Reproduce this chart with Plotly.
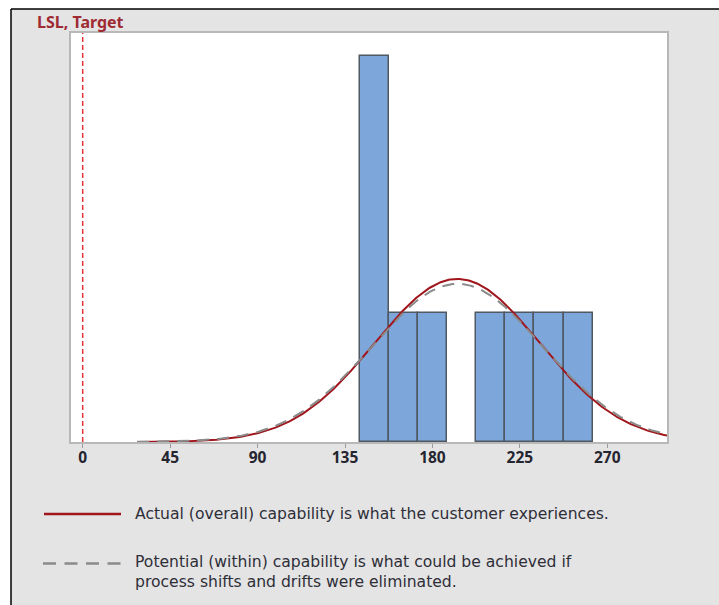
import numpy as np
import plotly.graph_objects as go

# ---------------- data ----------------
bin_centers = [150, 165, 180, 195, 210, 225, 240, 255]
bin_counts = [3, 1, 1, 0, 1, 1, 1, 1]
bin_width = 15
n_obs = 9

overall_mean = 192.8
overall_sd = 42.5
within_mean = 192.8
within_sd = 43.8
curve_start = 28
curve_end = 305

lsl_target = 0
tick_values = [0, 45, 90, 135, 180, 225, 270]

label_lsl = "LSL, Target"
legend_actual = "Actual (overall) capability is what the customer experiences."
legend_potential = ("Potential (within) capability is what could be achieved if<br>"
                    "process shifts and drifts were eliminated.")

# ---------------- layout geometry ----------------
W, H = 719, 605
ML, MR, MT, MB = 71, 52, 33, 163
PW = W - ML - MR
PH = H - MT - MB


def xp(px):
    return (px - ML) / PW


def yp(py):
    return (H - MB - py) / PH


def normal_counts(x, mu, sd):
    return n_obs * bin_width * np.exp(-0.5 * ((x - mu) / sd) ** 2) / (sd * np.sqrt(2 * np.pi))


xs = np.linspace(curve_start, curve_end, 400)
bar_outline = ["#4F5863" if c > 0 else "rgba(0,0,0,0)" for c in bin_counts]

fig = go.Figure()
fig.add_trace(go.Bar(
    x=bin_centers, y=bin_counts, width=bin_width,
    marker=dict(color="#7DA7DA", line=dict(color=bar_outline, width=1.5)),
    hoverinfo="skip", showlegend=False,
))
fig.add_trace(go.Scatter(
    x=xs, y=normal_counts(xs, overall_mean, overall_sd), mode="lines",
    line=dict(color="#A0161C", width=2), showlegend=False, hoverinfo="skip",
))
fig.add_trace(go.Scatter(
    x=xs, y=normal_counts(xs, within_mean, within_sd), mode="lines",
    line=dict(color="#8A8A8A", width=2, dash="12px,8px"), showlegend=False, hoverinfo="skip",
))

x0_px = 82.7
px_per_unit = (607.3 - 82.7) / 270
xmin = (ML - x0_px) / px_per_unit
xmax = (ML + PW - x0_px) / px_per_unit
ymax = PH / ((H - MB - 56) / 3)

shapes = [
    # LSL / Target line
    dict(type="line", xref="x", yref="paper", x0=lsl_target, x1=lsl_target, y0=0, y1=1,
         line=dict(color="#E2353B", width=1.5, dash="5px,3px"), layer="above"),
    # white strips outside frame
    dict(type="rect", xref="paper", yref="paper", x0=xp(-5), x1=xp(11), y0=yp(H + 5), y1=yp(-5),
         fillcolor="white", line=dict(width=0), layer="above"),
    dict(type="rect", xref="paper", yref="paper", x0=xp(-5), x1=xp(W + 5), y0=yp(9), y1=yp(-5),
         fillcolor="white", line=dict(width=0), layer="above"),
    # black frame lines
    dict(type="line", xref="paper", yref="paper", x0=xp(11), x1=xp(11), y0=yp(9), y1=yp(H + 5),
         line=dict(color="black", width=1.5), layer="above"),
    dict(type="line", xref="paper", yref="paper", x0=xp(11), x1=xp(W + 5), y0=yp(9), y1=yp(9),
         line=dict(color="black", width=1.5), layer="above"),
    # legend lines
    dict(type="line", xref="paper", yref="paper", x0=xp(44), x1=xp(121), y0=yp(514), y1=yp(514),
         line=dict(color="#A0161C", width=2.5), layer="above"),
    dict(type="line", xref="paper", yref="paper", x0=xp(43), x1=xp(121), y0=yp(563.5), y1=yp(563.5),
         line=dict(color="#8A8A8A", width=2.5, dash="13px,8.5px"), layer="above"),
]

annotations = [
    dict(text=label_lsl, xref="paper", yref="paper", x=xp(35), y=yp(21.5),
         xanchor="left", yanchor="middle", showarrow=False,
         font=dict(family="Noto Sans", size=16, color="#9E2A33", weight="bold")),
    dict(text=legend_actual, xref="paper", yref="paper", x=xp(133), y=yp(514),
         xanchor="left", yanchor="middle", showarrow=False, align="left",
         font=dict(family="DejaVu Sans", size=15.6, color="#2E2E38")),
    dict(text=legend_potential, xref="paper", yref="paper", x=xp(133), y=yp(572),
         xanchor="left", yanchor="middle", showarrow=False, align="left",
         font=dict(family="DejaVu Sans", size=15.6, color="#2E2E38")),
]

fig.update_layout(
    width=W, height=H,
    margin=dict(l=ML, r=MR, t=MT, b=MB, pad=0),
    paper_bgcolor="#E4E4E4", plot_bgcolor="white",
    bargap=0, showlegend=False,
    shapes=shapes, annotations=annotations,
    xaxis=dict(range=[xmin, xmax], tickvals=tick_values, ticks="outside", ticklen=4,
               tickwidth=1, tickcolor="#9A9A9A", showgrid=False, zeroline=False,
               showline=True, linecolor="#B8B8B8", linewidth=2, mirror=True,
               ticklabelstandoff=-4,
               tickfont=dict(family="Noto Sans", size=15.5, color="#252530", weight="bold")),
    yaxis=dict(range=[0, ymax], showticklabels=False, ticks="", showgrid=False, zeroline=False,
               showline=True, linecolor="#B8B8B8", linewidth=2, mirror=True),
)

fig.write_html("out.html")
